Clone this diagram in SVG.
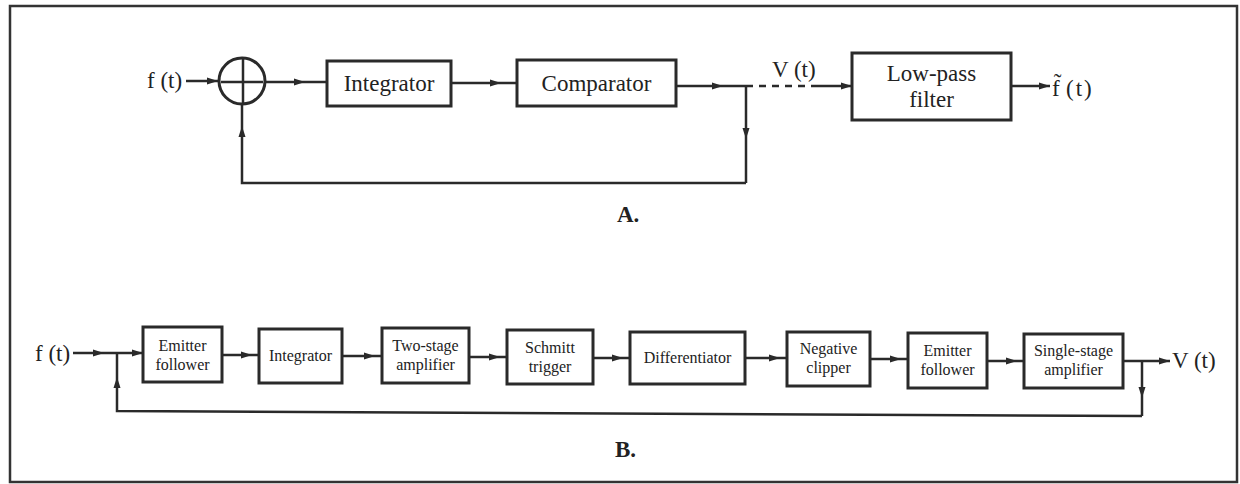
<svg xmlns="http://www.w3.org/2000/svg" width="1240" height="484" viewBox="0 0 1240 484">
<defs>
<marker id="ah" markerUnits="userSpaceOnUse" markerWidth="12" markerHeight="8" refX="11" refY="4" orient="auto">
<path d="M0,0.5 L11,4 L0,7.5 z" fill="#2a2a2a"/>
</marker>
<style>
.frame{fill:none;stroke:#333;stroke-width:2.5}
.box{fill:#fff;stroke:#2a2a2a;stroke-width:3}
.ln{fill:none;stroke:#2a2a2a;stroke-width:2.5}
.mid{marker-mid:url(#ah)}
.end{marker-end:url(#ah)}
.dash{fill:none;stroke:#2a2a2a;stroke-width:2.5;stroke-dasharray:7 6}
.tl{font-family:"Liberation Serif","Times New Roman",serif;font-size:23px;fill:#222}
.ts{font-family:"Liberation Serif","Times New Roman",serif;font-size:16px;fill:#222;text-anchor:middle}
.tb{font-family:"Liberation Serif","Times New Roman",serif;font-size:23px;font-weight:bold;fill:#222}
.c{text-anchor:middle}
</style>
</defs>
<rect class="frame" x="10" y="6" width="1227" height="476"/>

<g id="connectors">
<!-- A -->
<path class="ln end" d="M186,81 L218,81"/>
<path class="ln mid" d="M265,82 L305,82 L327,82"/>
<path class="ln mid" d="M451,83 L501,83 L517,83"/>
<path class="ln mid" d="M676,86 L723,86 L746,86"/>
<path class="dash" d="M746,86 L813,86"/>
<path class="ln end" d="M813,86 L852,86"/>
<path class="ln end" d="M1011,86 L1050,86"/>
<path class="ln mid" d="M746,86 L746,139 L746,183"/>
<path class="ln" d="M746,183 L242,183 L242,160"/>
<path class="ln mid" d="M242,160 L242,126 L242,103"/>
<!-- B -->
<path class="ln mid" d="M73,353 L104,353 L117,353"/>
<path class="ln end" d="M117,353 L143,353"/>
<path class="ln mid" d="M222,355 L252,355 L259,355"/>
<path class="ln mid" d="M342,356 L375,356 L382,356"/>
<path class="ln mid" d="M469,357 L500,357 L507,357"/>
<path class="ln mid" d="M593,358 L623,358 L630,358"/>
<path class="ln mid" d="M745,358 L780,358 L787,358"/>
<path class="ln mid" d="M870,359 L901,359 L908,359"/>
<path class="ln mid" d="M987,361 L1017,361 L1024,361"/>
<path class="ln end" d="M1123,361 L1170,361"/>
<path class="ln mid" d="M1142,361 L1142,398 L1142,416"/>
<path class="ln" d="M1142,416 L117,411 L117,395"/>
<path class="ln mid" d="M117,395 L117,377 L117,353"/>
</g>

<g id="sum">
<circle cx="242" cy="81" r="23" fill="#fff" stroke="#2a2a2a" stroke-width="3"/>
<path class="ln" stroke-width="3" d="M221,82 L263,82 M243,59 L243,103"/>
</g>

<g id="a-integrator">
<rect class="box" x="327" y="61" width="124" height="45"/>
<text class="tl c" x="389" y="91">Integrator</text>
</g>
<g id="a-comparator">
<rect class="box" x="517" y="60" width="159" height="46"/>
<text class="tl c" x="596.5" y="91">Comparator</text>
</g>
<g id="a-lowpass">
<rect class="box" x="852" y="53" width="159" height="67"/>
<text class="tl c" x="931.5" y="81">Low-pass</text>
<text class="tl c" x="931.5" y="107">filter</text>
</g>
<text class="tl" x="147" y="88">f (t)</text>
<text class="tl" x="772" y="77">V (t)</text>
<text class="tl" x="1052" y="96">f̃</text>
<text class="tl" x="1066" y="96" font-size="21" letter-spacing="2">(t)</text>
<text class="tb" x="617" y="222">A.</text>

<g id="b-emitter1">
<rect class="box" x="143" y="327" width="79" height="55"/>
<text class="ts" x="182.5" y="351">Emitter</text>
<text class="ts" x="182.5" y="370">follower</text>
</g>
<g id="b-integrator">
<rect class="box" x="259" y="329" width="83" height="54"/>
<text class="ts" x="300.5" y="361">Integrator</text>
</g>
<g id="b-twostage">
<rect class="box" x="382" y="328" width="87" height="55"/>
<text class="ts" x="425.5" y="351">Two-stage</text>
<text class="ts" x="425.5" y="370">amplifier</text>
</g>
<g id="b-schmitt">
<rect class="box" x="507" y="330" width="86" height="54"/>
<text class="ts" x="550" y="353">Schmitt</text>
<text class="ts" x="550" y="372">trigger</text>
</g>
<g id="b-differentiator">
<rect class="box" x="630" y="332" width="115" height="52"/>
<text class="ts" x="687.5" y="363">Differentiator</text>
</g>
<g id="b-clipper">
<rect class="box" x="787" y="332" width="83" height="54"/>
<text class="ts" x="828.5" y="354">Negative</text>
<text class="ts" x="828.5" y="373">clipper</text>
</g>
<g id="b-emitter2">
<rect class="box" x="908" y="333" width="79" height="55"/>
<text class="ts" x="947.5" y="356">Emitter</text>
<text class="ts" x="947.5" y="375">follower</text>
</g>
<g id="b-singlestage">
<rect class="box" x="1024" y="334" width="99" height="54"/>
<text class="ts" x="1073.5" y="356">Single-stage</text>
<text class="ts" x="1073.5" y="375">amplifier</text>
</g>
<text class="tl" x="35" y="361">f (t)</text>
<text class="tl" x="1172" y="368">V (t)</text>
<text class="tb" x="615" y="457">B.</text>
</svg>
